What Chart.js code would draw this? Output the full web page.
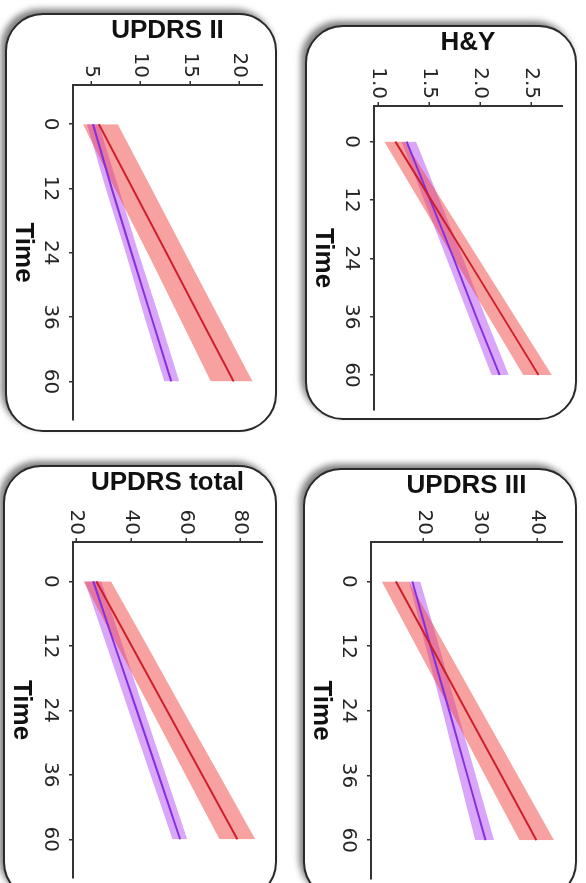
<!DOCTYPE html>
<html><head><meta charset="utf-8">
<script src="https://cdn.jsdelivr.net/npm/chart.js@4.4.1/dist/chart.umd.min.js"></script>
<style>
html,body{margin:0;padding:0;background:#fff;overflow:hidden;width:586px;height:883px;}
#stage{position:absolute;left:0;top:0;width:883px;height:586px;transform-origin:0 0;transform:translate(586px,0) rotate(90deg);}
.panel{position:absolute;box-sizing:border-box;border:2px solid #2a2a2a;border-radius:38px;box-shadow:-4px 4px 6px rgba(0,0,0,0.5);background:#fff;}
canvas{position:absolute;}
</style></head><body><div id="stage"></div>
<script>
// Time points (months)
const times = ['0', '12', '24', '36', '60'];

// H&Y
const hyTicks = [1.0, 1.5, 2.0, 2.5];
const hyRedMean = [1.17, 1.52, 1.87, 2.22, 2.57];
const hyRedLow  = [1.06, 1.40, 1.74, 2.08, 2.42];
const hyRedHigh = [1.26, 1.62, 1.98, 2.34, 2.70];
const hyPurMean = [1.28, 1.51, 1.74, 1.96, 2.19];
const hyPurLow  = [1.23, 1.45, 1.67, 1.89, 2.11];
const hyPurHigh = [1.37, 1.60, 1.83, 2.05, 2.28];

// UPDRS III
const u3Ticks = [20, 30, 40];
const u3RedMean = [15.1, 21.3, 27.5, 33.7, 39.9];
const u3RedLow  = [12.6, 18.7, 24.8, 30.8, 36.9];
const u3RedHigh = [17.4, 23.8, 30.2, 36.6, 43.0];
const u3PurMean = [18.0, 21.2, 24.5, 27.7, 30.9];
const u3PurLow  = [17.4, 20.3, 23.3, 26.2, 29.1];
const u3PurHigh = [19.4, 22.7, 25.9, 29.2, 32.4];

// UPDRS II
const u2Ticks = [5, 10, 15, 20];
const u2RedMean = [5.8, 9.2, 12.6, 16.0, 19.4];
const u2RedLow  = [4.2, 7.4, 10.7, 13.9, 17.1];
const u2RedHigh = [7.7, 11.1, 14.5, 17.9, 21.3];
const u2PurMean = [5.2, 7.1, 9.1, 11.1, 13.1];
const u2PurLow  = [4.6, 6.5, 8.5, 10.4, 12.4];
const u2PurHigh = [5.8, 7.8, 9.8, 11.9, 13.9];

// UPDRS total
const utTicks = [20, 40, 60, 80];
const utRedMean = [27.3, 40.2, 53.1, 65.9, 78.8];
const utRedLow  = [22.6, 35.0, 47.5, 59.9, 72.3];
const utRedHigh = [32.7, 45.9, 59.0, 72.2, 85.3];
const utPurMean = [26.2, 34.1, 42.1, 50.0, 57.9];
const utPurLow  = [23.1, 31.1, 39.1, 47.1, 55.1];
const utPurHigh = [29.1, 37.0, 44.8, 52.7, 60.5];

const RED_LINE = '#cc1f2a', PUR_LINE = '#8430dc';
const RED_BAND = 'rgba(240,75,75,0.52)', PUR_BAND = 'rgba(175,70,245,0.48)';
const TITLE_FONT = "'Liberation Sans', Arial, sans-serif";
const TICK_FONT = "'DejaVu Sans', sans-serif";
const INK = '#262626';

const stage = document.getElementById('stage');
function pts(arr){ return arr.map((v, i) => ({x: i, y: v})); }

function makePanel(p){
  const b = p.box, a = p.area;
  const border = document.createElement('div');
  border.className = 'panel';
  Object.assign(border.style, {left: b.x + 'px', top: b.y + 'px', width: b.w + 'px', height: b.h + 'px'});
  stage.appendChild(border);
  const cv = document.createElement('canvas');
  cv.width = b.w; cv.height = b.h;
  Object.assign(cv.style, {left: b.x + 'px', top: b.y + 'px'});
  stage.appendChild(cv);
  const none = 'rgba(0,0,0,0)';
  new Chart(cv, {
    type: 'line',
    data: { datasets: [
      {data: pts(p.redMean), borderColor: RED_LINE, borderWidth: 2, pointRadius: 0, fill: false},
      {data: pts(p.purMean), borderColor: PUR_LINE, borderWidth: 2, pointRadius: 0, fill: false},
      {data: pts(p.redHigh), borderColor: none, borderWidth: 0, pointRadius: 0, fill: '+1', backgroundColor: RED_BAND},
      {data: pts(p.redLow), borderColor: none, borderWidth: 0, pointRadius: 0, fill: false},
      {data: pts(p.purHigh), borderColor: none, borderWidth: 0, pointRadius: 0, fill: '+1', backgroundColor: PUR_BAND},
      {data: pts(p.purLow), borderColor: none, borderWidth: 0, pointRadius: 0, fill: false}
    ]},
    options: {
      responsive: false, animation: false, events: [],
      layout: {padding: {top: a.T - b.y, right: b.x + b.w - a.R, left: 0, bottom: 0}},
      plugins: {legend: {display: false}, tooltip: {enabled: false}, filler: {drawTime: 'beforeDatasetsDraw'}},
      scales: {
        x: {
          type: 'linear', min: -0.61, max: 4.6,
          afterBuildTicks: s => { s.ticks = times.map((t, i) => ({value: i})); },
          afterFit: s => { s.height = b.y + b.h - a.B; },
          ticks: {callback: v => times[v], font: {family: TICK_FONT, size: 20}, color: INK, padding: 7, maxRotation: 0, autoSkip: false},
          grid: {drawOnChartArea: false, tickLength: 4, color: '#333', lineWidth: 1.5},
          border: {color: '#333', width: 2},
          title: {display: true, text: 'Time', font: {family: TITLE_FONT, size: 26, weight: 'bold'}, color: '#111', padding: {top: 0, bottom: 3}}
        },
        y: {
          type: 'linear', min: p.min, max: p.max,
          afterBuildTicks: s => { s.ticks = p.ticks.map(v => ({value: v})); },
          afterFit: s => { s.width = a.L - b.x; },
          ticks: {callback: v => p.dec ? v.toFixed(p.dec) : String(v), font: {family: TICK_FONT, size: 20}, color: INK, padding: 3, autoSkip: false},
          grid: {drawOnChartArea: false, tickLength: 4, color: '#333', lineWidth: 1.5},
          border: {color: '#333', width: 2},
          title: {display: true, text: p.title, font: {family: TITLE_FONT, size: 26, weight: 'bold'}, color: '#111', padding: {top: 2, bottom: 0}}
        }
      }
    }
  });
}

makePanel({title: 'H&Y', ticks: hyTicks, dec: 1, min: 0.96, max: 2.80,
  redMean: hyRedMean, redLow: hyRedLow, redHigh: hyRedHigh, purMean: hyPurMean, purLow: hyPurLow, purHigh: hyPurHigh,
  box: {x: 25, y: 9, w: 395, h: 272}, area: {L: 106, R: 410, T: 13, B: 212}});
makePanel({title: 'UPDRS III', ticks: u3Ticks, dec: 0, min: 10.7, max: 44.4,
  redMean: u3RedMean, redLow: u3RedLow, redHigh: u3RedHigh, purMean: u3PurMean, purLow: u3PurLow, purHigh: u3PurHigh,
  box: {x: 468, y: 9, w: 432, h: 274}, area: {L: 542, R: 879, T: 19, B: 215}});
makePanel({title: 'UPDRS II', ticks: u2Ticks, dec: 0, min: 3.19, max: 22.26,
  redMean: u2RedMean, redLow: u2RedLow, redHigh: u2RedHigh, purMean: u2PurMean, purLow: u2PurLow, purHigh: u2PurHigh,
  box: {x: 13, y: 309, w: 419, h: 272}, area: {L: 85, R: 420, T: 316, B: 513}});
makePanel({title: 'UPDRS total', ticks: utTicks, dec: 0, min: 18.8, max: 87.8,
  redMean: utRedMean, redLow: utRedLow, redHigh: utRedHigh, purMean: utPurMean, purLow: utPurLow, purHigh: utPurHigh,
  box: {x: 465, y: 309, w: 435, h: 274}, area: {L: 542, R: 878, T: 319, B: 513}});
</script></body></html>
